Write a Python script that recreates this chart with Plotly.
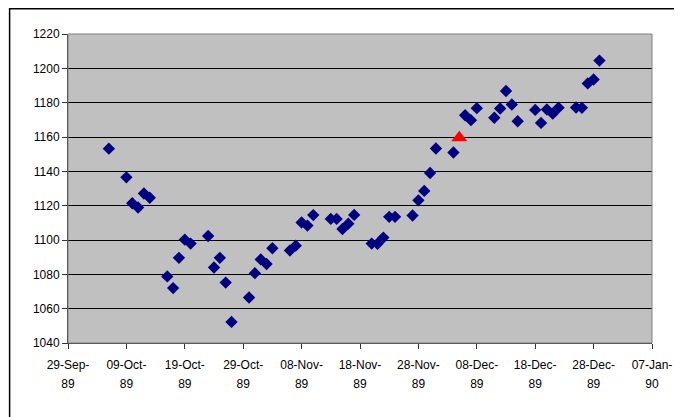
import plotly.graph_objects as go

# ---- data ----
dates = [
    "1989-10-06", "1989-10-09", "1989-10-10", "1989-10-11", "1989-10-12", "1989-10-13",
    "1989-10-16", "1989-10-17", "1989-10-18", "1989-10-19", "1989-10-20",
    "1989-10-23", "1989-10-24", "1989-10-25", "1989-10-26", "1989-10-27",
    "1989-10-30", "1989-10-31", "1989-11-01", "1989-11-02", "1989-11-03",
    "1989-11-06", "1989-11-07", "1989-11-08", "1989-11-09", "1989-11-10",
    "1989-11-13", "1989-11-14", "1989-11-15", "1989-11-16", "1989-11-17",
    "1989-11-20", "1989-11-21", "1989-11-22", "1989-11-23", "1989-11-24",
    "1989-11-27", "1989-11-28", "1989-11-29", "1989-11-30", "1989-12-01",
    "1989-12-04", "1989-12-06", "1989-12-07", "1989-12-08",
    "1989-12-11", "1989-12-12", "1989-12-13", "1989-12-14", "1989-12-15",
    "1989-12-18", "1989-12-19", "1989-12-20", "1989-12-21", "1989-12-22",
    "1989-12-25", "1989-12-26", "1989-12-27", "1989-12-28", "1989-12-29",
]
values = [
    1153.2, 1136.5, 1121.4, 1118.9, 1127.1, 1124.6,
    1078.8, 1072.0, 1089.6, 1100.2, 1097.9,
    1102.3, 1084.0, 1089.6, 1075.2, 1052.3,
    1066.5, 1080.7, 1088.7, 1086.0, 1095.2,
    1093.9, 1096.7, 1110.2, 1108.4, 1114.5,
    1112.3, 1112.3, 1106.4, 1109.5, 1114.6,
    1097.9, 1097.8, 1101.4, 1113.5, 1113.5,
    1114.3, 1123.1, 1128.6, 1139.0, 1153.3,
    1151.0, 1172.7, 1169.8, 1176.8,
    1171.2, 1176.6, 1186.8, 1178.9, 1169.2,
    1175.8, 1168.2, 1176.0, 1173.6, 1177.1,
    1177.2, 1177.0, 1191.2, 1193.5, 1204.5,
]
highlight_dates = ["1989-12-05"]
highlight_values = [1159.5]

tick_dates = ["1989-09-29", "1989-10-09", "1989-10-19", "1989-10-29", "1989-11-08",
              "1989-11-18", "1989-11-28", "1989-12-08", "1989-12-18", "1989-12-28",
              "1990-01-07"]
tick_line1 = ["29-Sep-", "09-Oct-", "19-Oct-", "29-Oct-", "08-Nov-", "18-Nov-",
              "28-Nov-", "08-Dec-", "18-Dec-", "28-Dec-", "07-Jan-"]
tick_line2 = ["89", "89", "89", "89", "89", "89", "89", "89", "89", "89", "90"]

FONT = "Arial, 'Liberation Sans', sans-serif"

fig = go.Figure()
fig.add_trace(go.Scatter(
    x=dates, y=values, mode="markers",
    marker=dict(symbol="diamond", size=9.5, color="#000080", line=dict(width=0)),
    showlegend=False, xaxis="x", yaxis="y"))
fig.add_trace(go.Scatter(
    x=highlight_dates, y=highlight_values, mode="markers",
    marker=dict(symbol="triangle-up", size=14, color="#FF0000", line=dict(width=0)),
    showlegend=False, xaxis="x", yaxis="y"))
# invisible trace for the second axis so it renders
fig.add_trace(go.Scatter(x=[tick_dates[0]], y=[1040], mode="markers",
                         marker=dict(opacity=0), showlegend=False, hoverinfo="skip",
                         xaxis="x2", yaxis="y"))

xrange = [tick_dates[0], tick_dates[-1]]

fig.update_layout(
    width=674, height=409,
    margin=dict(l=60, r=30, t=26, b=74),
    paper_bgcolor="white",
    plot_bgcolor="#C0C0C0",
    font=dict(family=FONT, size=12, color="black"),
    xaxis=dict(
        type="date", range=xrange, tickmode="array",
        tickvals=tick_dates, ticktext=tick_line1,
        showgrid=False, zeroline=False, automargin=False,
        showline=True, linecolor="#333333", linewidth=1,
        ticks="outside", ticklen=5, tickcolor="#333333", tickwidth=1,
        ticklabelstandoff=6,
        tickfont=dict(family=FONT, size=12, color="black"),
        fixedrange=True,
    ),
    xaxis2=dict(
        type="date", range=xrange, overlaying="x", anchor="y", side="bottom",
        tickmode="array", tickvals=tick_dates, ticktext=tick_line2,
        showgrid=False, zeroline=False, showline=False, ticks="", automargin=False,
        ticklabelstandoff=32,
        tickfont=dict(family=FONT, size=12, color="black"),
        fixedrange=True,
    ),
    yaxis=dict(
        range=[1040, 1220], dtick=20, tick0=1040,
        showgrid=True, gridcolor="black", gridwidth=1,
        zeroline=False, automargin=False,
        showline=True, linecolor="#333333", linewidth=1,
        ticks="outside", ticklen=5, tickcolor="#333333", tickwidth=1,
        tickfont=dict(family=FONT, size=12, color="black"),
        fixedrange=True,
    ),
    shapes=[
        dict(type="rect", xref="paper", yref="paper", x0=0, x1=1, y0=0, y1=1,
             line=dict(color="#808080", width=1), layer="above", fillcolor="rgba(0,0,0,0)"),
        dict(type="rect", xref="paper", yref="paper", x0=-0.1, x1=1.2, y0=-0.5, y1=1.082,
             line=dict(color="black", width=1.5), fillcolor="rgba(0,0,0,0)", layer="below"),
    ],
)

fig.write_html("out.html")
